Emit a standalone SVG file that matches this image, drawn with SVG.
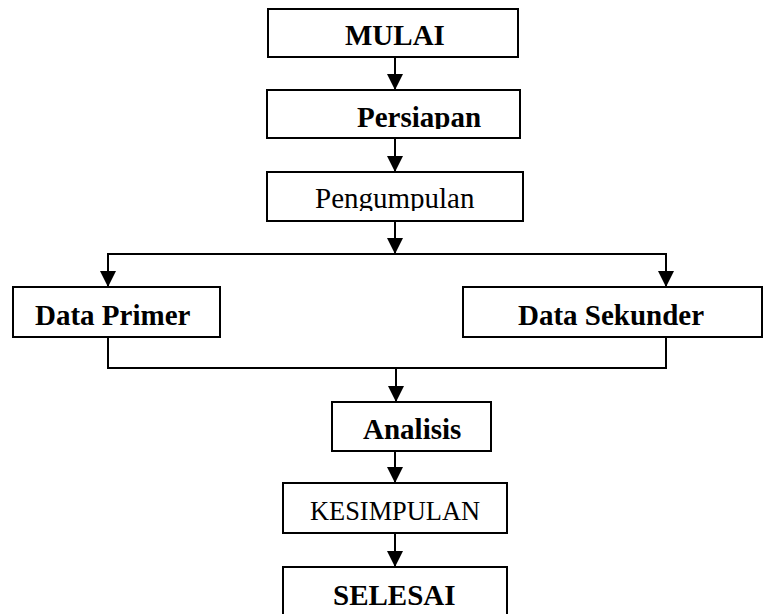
<svg xmlns="http://www.w3.org/2000/svg" width="766" height="614" viewBox="0 0 766 614">
<style>
.box{fill:#fff;stroke:#000;stroke-width:2}
.b{font-family:"Liberation Serif","Times New Roman",serif;font-weight:bold;font-size:29px;fill:#000}
.r{font-family:"Liberation Serif","Times New Roman",serif;font-size:29px;fill:#000}
.ln{fill:none;stroke:#000;stroke-width:2}
</style>
<defs>
<marker id="ah" viewBox="0 0 16 16" refX="16" refY="8" markerWidth="16" markerHeight="16" markerUnits="userSpaceOnUse" orient="auto">
<path d="M0,0 L16,8 L0,16 Z" fill="#000"/>
</marker>
<clipPath id="cp1"><rect x="267" y="90" width="253" height="39"/></clipPath>
<clipPath id="cp2"><rect x="267" y="172" width="256" height="39"/></clipPath>
</defs>
<rect width="766" height="614" fill="#fff"/>
<g id="connectors">
<line class="ln" x1="395" y1="57" x2="395" y2="90" marker-end="url(#ah)"/>
<line class="ln" x1="395" y1="138" x2="395" y2="172" marker-end="url(#ah)"/>
<line class="ln" x1="395" y1="221" x2="395" y2="254" marker-end="url(#ah)"/>
<polyline class="ln" points="108,287 108,254 666,254 666,287"/>
<line class="ln" x1="108" y1="254" x2="108" y2="287" marker-end="url(#ah)"/>
<line class="ln" x1="666" y1="254" x2="666" y2="287" marker-end="url(#ah)"/>
<polyline class="ln" points="108,337 108,368 666,368 666,337"/>
<line class="ln" x1="396" y1="368" x2="396" y2="402" marker-end="url(#ah)"/>
<line class="ln" x1="395" y1="451" x2="395" y2="483" marker-end="url(#ah)"/>
<line class="ln" x1="395" y1="533" x2="395" y2="567" marker-end="url(#ah)"/>
</g>
<g id="mulai">
<rect class="box" x="268" y="9" width="250" height="48"/>
<text class="b" x="345" y="45">MULAI</text>
</g>
<g id="persiapan">
<rect class="box" x="267" y="90" width="253" height="48"/>
<text class="b" x="357" y="127" clip-path="url(#cp1)">Persiapan</text>
</g>
<g id="pengumpulan">
<rect class="box" x="267" y="172" width="256" height="49"/>
<text class="r" x="315" y="208" clip-path="url(#cp2)">Pengumpulan</text>
</g>
<g id="data-primer">
<rect class="box" x="13" y="287" width="207" height="50"/>
<text class="b" x="35" y="325">Data Primer</text>
</g>
<g id="data-sekunder">
<rect class="box" x="463" y="287" width="299" height="50"/>
<text class="b" x="518" y="325">Data Sekunder</text>
</g>
<g id="analisis">
<rect class="box" x="332" y="402" width="159" height="49"/>
<text class="b" x="363" y="439">Analisis</text>
</g>
<g id="kesimpulan">
<rect class="box" x="283" y="483" width="224" height="50"/>
<text class="r" x="310" y="520" style="font-size:26.4px">KESIMPULAN</text>
</g>
<g id="selesai">
<rect class="box" x="283" y="567" width="224" height="60"/>
<text class="b" x="333" y="605">SELESAI</text>
</g>
</svg>
